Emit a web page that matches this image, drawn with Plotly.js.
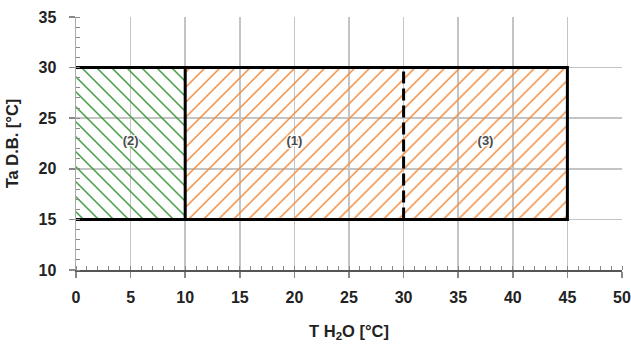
<!DOCTYPE html>
<html>
<head>
<meta charset="utf-8">
<script src="https://cdn.plot.ly/plotly-3.0.1.min.js"></script>
<style>html,body{margin:0;padding:0;background:#fff;}#chart{width:631px;height:345px;}</style>
</head>
<body>
<div id="chart"></div>
<script>
// Operating envelope: water temperature bounds (x) and dry-bulb air temperature bounds (y)
const tH2O_bounds = [0, 10, 30, 45];   // left edge, split (2)/(1), split (1)/(3) dashed, right edge
const taDB_bounds = [15, 30];          // bottom, top
const regionLabels = ["(2)", "(1)", "(3)"];
const labelX = [5, 20, 37.5];
const labelY = [22.7, 22.7, 22.7];
const xTicks = [0, 5, 10, 15, 20, 25, 30, 35, 40, 45, 50];
const yTicks = [10, 15, 20, 25, 30, 35];

const x0 = tH2O_bounds[0], x1 = tH2O_bounds[1], x2 = tH2O_bounds[2], x3 = tH2O_bounds[3];
const y0 = taDB_bounds[0], y1 = taDB_bounds[1];

const green = '#3f9a3f', orange = '#f08c40';
const pat = (shape, col) => ({shape: shape, fgcolor: col, bgcolor: 'rgba(0,0,0,0)', size: 10.6, solidity: 0.14, fillmode: 'replace'});

const traces = [
  {x: [x0, x1, x1, x0, x0], y: [y0, y0, y1, y1, y0], mode: 'lines', fill: 'toself',
   fillcolor: 'rgba(0,0,0,0)', fillpattern: pat('\\', green), line: {width: 0}, hoverinfo: 'skip'},
  {x: [x1, x3, x3, x1, x1], y: [y0, y0, y1, y1, y0], mode: 'lines', fill: 'toself',
   fillcolor: 'rgba(0,0,0,0)', fillpattern: pat('/', orange), line: {width: 0}, hoverinfo: 'skip'},
  // border: top, right, bottom
  {x: [x0, x3, x3, x0], y: [y1, y1, y0, y0], mode: 'lines', line: {color: '#000', width: 3}, hoverinfo: 'skip'},
  {x: [x1, x1], y: [y0, y1], mode: 'lines', line: {color: '#000', width: 3}, hoverinfo: 'skip'},
  {x: [x2, x2], y: [y0, y1], mode: 'lines', line: {color: '#000', width: 3, dash: '12px,5px'}, hoverinfo: 'skip'},
  {x: labelX, y: labelY, mode: 'text', text: regionLabels,
   textfont: {family: 'Arial, Liberation Sans, sans-serif', size: 13, color: '#4a4a4a', weight: 'bold',
     shadow: '1px 1px 1px #fff, -1px -1px 1px #fff, 1px -1px 1px #fff, -1px 1px 1px #fff'}, hoverinfo: 'skip'}
];

const tickFont = {family: 'Arial, Liberation Sans, sans-serif', size: 16, color: '#222', weight: 'bold'};
const titleFont = {family: 'Arial, Liberation Sans, sans-serif', size: 16.5, color: '#222', weight: 'bold'};

const layout = {
  width: 631, height: 345,
  margin: {l: 76, r: 9, t: 17, b: 75},
  paper_bgcolor: '#fff', plot_bgcolor: '#fff',
  showlegend: false,
  xaxis: {
    range: [0, 50], tickvals: xTicks, ticktext: xTicks.map(String),
    showgrid: true, gridcolor: '#c4c4c4', gridwidth: 1.5,
    zeroline: false, showline: true, linecolor: '#555', linewidth: 1.5,
    ticks: 'outside', ticklen: 6, tickcolor: '#888', tickwidth: 1.5, ticklabelstandoff: 6,
    minor: {dtick: 1, ticks: 'inside', ticklen: 4, tickcolor: '#888', tickwidth: 1, showgrid: false},
    tickfont: tickFont,
    title: {text: 'T H<sub>2</sub>O [°C]', font: titleFont, standoff: 20}
  },
  yaxis: {
    range: [10, 35], tickvals: yTicks, ticktext: yTicks.map(String),
    showgrid: true, gridcolor: '#c4c4c4', gridwidth: 1.5,
    zeroline: false, showline: true, linecolor: '#aaa', linewidth: 1.5,
    ticks: 'outside', ticklen: 6, tickcolor: '#888', tickwidth: 1.5, ticklabelstandoff: 9,
    minor: {dtick: 1, ticks: 'inside', ticklen: 4, tickcolor: '#888', tickwidth: 1, showgrid: false},
    tickfont: tickFont,
    title: {text: 'Ta D.B. [°C]', font: titleFont, standoff: 15}
  }
};

Plotly.newPlot('chart', traces, layout, {staticPlot: true, displayModeBar: false});
</script>
</body>
</html>
